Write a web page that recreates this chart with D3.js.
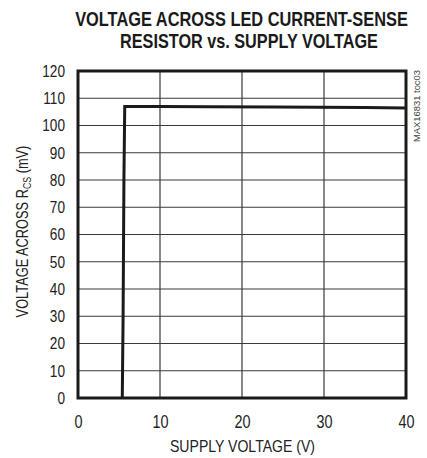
<!DOCTYPE html>
<html>
<head>
<meta charset="utf-8">
<script src="https://cdn.jsdelivr.net/npm/d3@7"></script>
<style>
  body { margin: 0; background: #fff; }
  svg { font-family: "Liberation Sans", Arial, sans-serif; }
</style>
</head>
<body>
<div id="chart"></div>
<script>
// values
var supplyVoltage = [5.4, 5.5, 5.6, 5.7, 6, 10, 16, 24, 35, 40];
var senseVoltage = [0, 30, 80, 107, 107, 107, 106.9, 106.8, 106.6, 106.4];
var xTicks = [0, 10, 20, 30, 40];
var yTicks = [0, 10, 20, 30, 40, 50, 60, 70, 80, 90, 100, 110, 120];
var titleLines = ["VOLTAGE ACROSS LED CURRENT-SENSE", "RESISTOR vs. SUPPLY VOLTAGE"];

var W = 427, H = 458;
var margin = { top: 71, right: 21, bottom: 60, left: 78 };
var width = W - margin.left - margin.right;
var height = H - margin.top - margin.bottom;

// squeeze text horizontally, no condensed font installed
function condense(sel, f) {
    sel.each(function() {
        var len = this.getComputedTextLength();
        d3.select(this)
            .attr("textLength", len * f)
            .attr("lengthAdjust", "spacingAndGlyphs");
    });
}

var svg = d3.select("#chart").append("svg")
    .attr("width", W)
    .attr("height", H);

// title, scaled down to the reference widths
var titleX = [241.5, 249];
var titleW = [333, 258];
svg.append("g").selectAll("text")
    .data(titleLines)
    .enter().append("text")
    .attr("text-anchor", "middle")
    .style("font-size", "20px")
    .style("font-weight", "bold")
    .attr("fill", "#1a1a1a")
    .text(function(d) { return d; })
    .each(function(d, i) {
        var s = titleW[i] / this.getComputedTextLength();
        d3.select(this).attr("transform",
            "translate(" + titleX[i] + "," + (26 + i * 22) + ") scale(" + s + ",1)");
    });

var g = svg.append("g")
    .attr("transform", "translate(" + margin.left + "," + margin.top + ")");

var x = d3.scaleLinear().domain([0, 40]).range([0, width]);
var y = d3.scaleLinear().domain([0, 120]).range([height, 0]);

// grid
g.append("g").selectAll("line")
    .data(xTicks.slice(1, -1))
    .enter().append("line")
    .attr("x1", function(d) { return x(d); })
    .attr("x2", function(d) { return x(d); })
    .attr("y1", 0).attr("y2", height)
    .attr("stroke", "#3a3a3a").attr("stroke-width", 1.2);

g.append("g").selectAll("line")
    .data(yTicks.slice(1, -1))
    .enter().append("line")
    .attr("y1", function(d) { return y(d); })
    .attr("y2", function(d) { return y(d); })
    .attr("x1", 0).attr("x2", width)
    .attr("stroke", "#3a3a3a").attr("stroke-width", 1.2);

// axes (labels only, frame drawn below)
var xAxis = d3.axisBottom(x).tickValues(xTicks).tickSize(0).tickPadding(17);
var yAxis = d3.axisLeft(y).tickValues(yTicks).tickSize(0).tickPadding(13);

g.append("g")
    .attr("transform", "translate(0," + height + ")")
    .call(xAxis)
    .call(function(s) { s.select(".domain").remove(); })
    .selectAll("text")
    .style("font-size", "18px")
    .style("font-family", "'Liberation Sans', sans-serif")
    .attr("fill", "#222")
    .call(condense, 0.8);

g.append("g")
    .call(yAxis)
    .call(function(s) { s.select(".domain").remove(); })
    .selectAll("text")
    .style("font-size", "17px")
    .style("font-family", "'Liberation Sans', sans-serif")
    .attr("fill", "#222")
    .call(condense, 0.8);

// curve
var line = d3.line()
    .x(function(d, i) { return x(supplyVoltage[i]); })
    .y(function(d) { return y(d); });

g.append("path")
    .datum(senseVoltage)
    .attr("d", line)
    .attr("fill", "none")
    .attr("stroke", "#1a1a1a")
    .attr("stroke-width", 3)
    .attr("stroke-linejoin", "miter");

// frame
g.append("rect")
    .attr("width", width).attr("height", height)
    .attr("fill", "none")
    .attr("stroke", "#1a1a1a")
    .attr("stroke-width", 3);

// axis titles
svg.append("text")
    .attr("x", 242.5)
    .attr("y", 452)
    .attr("text-anchor", "middle")
    .style("font-size", "17px")
    .attr("fill", "#222")
    .attr("textLength", 145)
    .attr("lengthAdjust", "spacingAndGlyphs")
    .text("SUPPLY VOLTAGE (V)");

var yt = svg.append("text")
    .attr("transform", "translate(28,231.5) rotate(-90)")
    .attr("text-anchor", "middle")
    .style("font-size", "16px")
    .attr("fill", "#222");
yt.append("tspan").text("VOLTAGE ACROSS R");
yt.append("tspan").attr("dy", 3).style("font-size", "11px").text("CS");
yt.append("tspan").attr("dy", -3).text(" (mV)");
condense(yt, 0.8);

// side code
svg.append("text")
    .attr("transform", "translate(420,70) rotate(-90)")
    .attr("text-anchor", "end")
    .style("font-size", "9px")
    .attr("fill", "#444")
    .attr("textLength", 72)
    .attr("lengthAdjust", "spacingAndGlyphs")
    .text("MAX16831 toc03");
</script>
</body>
</html>
